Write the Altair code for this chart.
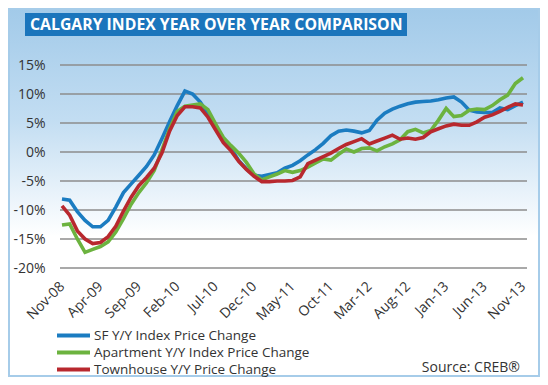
import altair as alt
import pandas as pd

# ---- data ----
month_index = list(range(61))  # Nov-08 .. Nov-13, monthly
tick_labels = ["Nov-08", "Apr-09", "Sep-09", "Feb-10", "Jul-10", "Dec-10", "May-11",
               "Oct-11", "Mar-12", "Aug-12", "Jan-13", "Jun-13", "Nov-13"]
y_ticks = [-20, -15, -10, -5, 0, 5, 10, 15]
series_names = ["SF Y/Y Index Price Change",
                "Apartment Y/Y Index Price Change",
                "Townhouse Y/Y Price Change"]

sf = [-8.1, -8.3, -10.3, -11.8, -12.9, -12.9, -11.8, -9.5, -7.0, -5.5,
      -4.0, -2.5, -0.5, 2.3, 5.2, 8.0, 10.5, 10.0, 8.6, 6.5,
      4.5, 2.3, 0.7, -1.5, -2.9, -4.0, -4.2, -3.9, -3.6, -2.8,
      -2.3, -1.5, -0.5, 0.4, 1.5, 2.8, 3.6, 3.8, 3.6, 3.3,
      3.7, 5.5, 6.7, 7.4, 7.9, 8.3, 8.6, 8.7, 8.8, 9.0,
      9.3, 9.5, 8.6, 7.2, 6.9, 6.8, 6.8, 7.6, 7.3, 8.0, 8.6]
apartment = [-12.6, -12.4, -15.0, -17.3, -16.8, -16.3, -15.5, -13.8, -11.5, -9.0,
             -7.0, -5.3, -3.2, 0.3, 4.0, 7.0, 7.9, 8.1, 8.3, 7.3,
             4.8, 2.5, 1.1, -0.2, -1.8, -3.8, -4.8, -4.3, -3.8, -3.2,
             -3.5, -3.2, -2.6, -1.9, -1.2, -1.4, -0.4, 0.5, 0.0, 0.6,
             0.7, 0.2, 0.9, 1.4, 2.1, 3.5, 3.9, 3.3, 3.7, 5.5,
             7.5, 6.1, 6.3, 7.2, 7.4, 7.3, 8.0, 9.0, 9.8, 11.8, 12.8]
townhouse = [-9.3, -10.9, -13.6, -15.0, -15.8, -15.6, -14.6, -12.8, -10.2, -7.8,
             -5.8, -4.4, -2.8, -0.2, 3.6, 6.3, 7.8, 7.8, 7.6, 6.0,
             3.8, 1.6, 0.2, -1.6, -3.0, -4.2, -5.1, -5.1, -5.0, -5.0,
             -4.9, -4.3, -2.0, -1.4, -0.8, -0.2, 0.6, 1.3, 1.8, 2.3,
             1.4, 1.9, 2.4, 2.9, 2.2, 2.4, 2.2, 2.5, 3.5, 4.0,
             4.5, 4.8, 4.6, 4.6, 5.2, 6.0, 6.4, 7.0, 7.7, 8.3, 8.1]
series_colors = ["#1b7cc1", "#6cb33f", "#b8282e"]

df = pd.DataFrame({"i": month_index,
                   series_names[0]: sf,
                   series_names[1]: apartment,
                   series_names[2]: townhouse})
long = df.melt(id_vars="i", var_name="series", value_name="value")
grid_df = pd.DataFrame({"value": y_ticks})

FONT = "Open Sans"
one = pd.DataFrame({"a": [0]})

x_scale = alt.Scale(domain=[-0.26, 60.52], nice=False, zero=False)
y_scale = alt.Scale(domain=[-20, 15], nice=False, zero=False)
y_axis = alt.Axis(values=y_ticks, labelExpr="datum.value + '%'",
                  labelFont=FONT, labelFontSize=14, labelColor="#333333",
                  labelPadding=15, ticks=False, domain=False, grid=False,
                  title=None, zindex=1)

bg = alt.Chart(one).mark_rect(
    fill=alt.LinearGradient(gradient="linear", x1=0, x2=0, y1=0, y2=1,
                            stops=[alt.GradientStop(color="#a2cae9", offset=0),
                                   alt.GradientStop(color="#c2ddf2", offset=0.3),
                                   alt.GradientStop(color="#ffffff", offset=0.62),
                                   alt.GradientStop(color="#ffffff", offset=1)]),
    stroke="#a6cce9", strokeWidth=2
).encode(x=alt.value(-51), x2=alt.value(479), y=alt.value(-56), y2=alt.value(311))

title_box = alt.Chart(one).mark_rect(color="#1b75bc").encode(
    x=alt.value(-35), x2=alt.value(347), y=alt.value(-52), y2=alt.value(-29))
title_text = alt.Chart(one).mark_text(
    text="CALGARY INDEX YEAR OVER YEAR COMPARISON", font=FONT, fontWeight="bold",
    fontSize=15.8, color="white", align="left", baseline="middle"
).encode(x=alt.value(-30), y=alt.value(-40))

grid = alt.Chart(grid_df).mark_rule(color="#8c8c8c", strokeWidth=1.5).encode(
    y=alt.Y("value:Q", scale=y_scale, axis=y_axis),
    x=alt.value(0), x2=alt.value(467))

label_expr = "[" + ",".join("'%s'" % t for t in tick_labels) + "][round(datum.value/5)]"

lines = alt.Chart(long).mark_line(strokeWidth=3.6, clip=False).encode(
    x=alt.X("i:Q", scale=x_scale,
            axis=alt.Axis(values=list(range(0, 61, 5)), labelExpr=label_expr,
                          labelAngle=-45, labelAlign="right", labelBaseline="middle",
                          labelFont=FONT, labelFontSize=14, labelColor="#333333",
                          labelPadding=16, labelOverlap=False, ticks=False,
                          domain=False, grid=False, title=None, zindex=1)),
    y=alt.Y("value:Q", scale=y_scale, axis=y_axis),
    color=alt.Color("series:N",
                    scale=alt.Scale(domain=series_names, range=series_colors),
                    sort=series_names,
                    legend=alt.Legend(orient="none", legendX=6, legendY=263,
                                      direction="vertical", title=None,
                                      symbolType="M-3,0L3,0", symbolSize=121,
                                      symbolStrokeWidth=4, labelFont=FONT,
                                      labelFontSize=13.5, labelColor="#333333",
                                      labelLimit=400, rowPadding=0, labelOffset=13,
                                      zindex=1)),
    order="i:Q",
)

source = alt.Chart(one).mark_text(
    text="Source: CREB®", font=FONT, fontSize=14, color="#333333",
    align="right", baseline="alphabetic"
).encode(x=alt.value(460), y=alt.value(307))

chart = alt.layer(bg, title_box, title_text, grid, lines, source).properties(
    width=467, height=203,
    autosize=alt.AutoSizeParams(type="none"),
    padding={"left": 52, "top": 57, "right": 13, "bottom": 109},
).configure_view(stroke=None).configure(background="white")

chart.save("out.html", embed_options={"renderer": "svg", "actions": False})
